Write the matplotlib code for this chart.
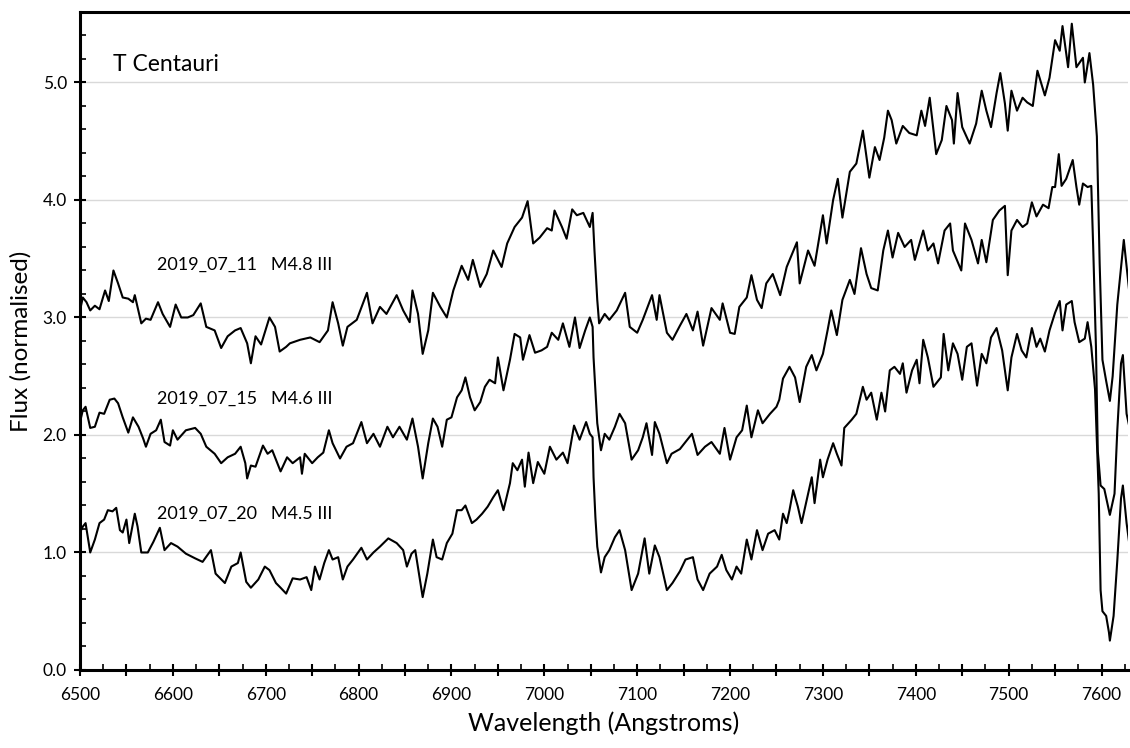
import matplotlib
matplotlib.use("Agg")
import matplotlib.pyplot as plt
from matplotlib.ticker import MultipleLocator, FuncFormatter

plt.rcParams['font.family'] = ['Lato', 'DejaVu Sans']

# 2019_07_11  M4.8 III
wl_11 = [6500, 6503, 6507, 6511, 6516, 6521, 6527, 6531, 6536, 6541, 6546, 6552, 6557, 6559, 6566, 6571,
         6576, 6584, 6589, 6597, 6603, 6609, 6616, 6622, 6630, 6636, 6645, 6652, 6659, 6667, 6673, 6680,
         6684, 6689, 6695, 6704, 6710, 6715, 6722, 6726, 6737, 6748, 6758, 6767, 6772, 6778, 6783, 6788,
         6798, 6809, 6815, 6823, 6830, 6841, 6848, 6855, 6858, 6864, 6869, 6875, 6880, 6888, 6895, 6902,
         6911, 6918, 6923, 6931, 6938, 6945, 6954, 6960, 6968, 6976, 6982, 6988, 6995, 7003, 7008, 7011,
         7019, 7024, 7030, 7035, 7042, 7049, 7052, 7054, 7057, 7059, 7065, 7070, 7078, 7087, 7092, 7100,
         7106, 7116, 7121, 7124, 7132, 7138, 7146, 7153, 7160, 7165, 7171, 7180, 7189, 7192, 7200, 7205,
         7210, 7218, 7223, 7229, 7234, 7239, 7246, 7254, 7261, 7272, 7275, 7284, 7291, 7300, 7304, 7311,
         7316, 7321, 7329, 7336, 7343, 7350, 7356, 7361, 7366, 7370, 7374, 7379, 7386, 7393, 7401, 7406,
         7410, 7415, 7422, 7428, 7433, 7439, 7441, 7445, 7450, 7458, 7465, 7471, 7476, 7481, 7487, 7491,
         7496, 7499, 7503, 7509, 7515, 7520, 7526, 7531, 7539, 7544, 7550, 7555, 7558, 7564, 7568, 7573,
         7580, 7582, 7587, 7591, 7595, 7598, 7601, 7605, 7609, 7612, 7617, 7624, 7630]
fx_11 = [3.06, 3.17, 3.13, 3.06, 3.10, 3.07, 3.23, 3.14, 3.40, 3.29, 3.17, 3.16, 3.13, 3.19, 2.95, 2.99,
         2.98, 3.13, 3.03, 2.92, 3.11, 3.00, 3.00, 3.02, 3.12, 2.92, 2.89, 2.74, 2.84, 2.89, 2.91, 2.78,
         2.61, 2.84, 2.77, 3.00, 2.92, 2.71, 2.75, 2.78, 2.81, 2.83, 2.79, 2.89, 3.13, 2.95, 2.76, 2.92,
         2.98, 3.21, 2.95, 3.09, 3.03, 3.19, 3.06, 2.96, 3.23, 3.03, 2.69, 2.89, 3.21, 3.09, 3.00, 3.23,
         3.44, 3.32, 3.49, 3.26, 3.37, 3.57, 3.43, 3.63, 3.77, 3.85, 3.99, 3.63, 3.68, 3.76, 3.74, 3.91,
         3.77, 3.67, 3.92, 3.87, 3.89, 3.77, 3.89, 3.57, 3.15, 2.95, 3.03, 2.98, 3.06, 3.21, 2.92, 2.87,
         2.98, 3.19, 2.98, 3.19, 2.87, 2.81, 2.93, 3.03, 2.89, 3.05, 2.76, 3.08, 2.98, 3.12, 2.87, 2.86,
         3.09, 3.17, 3.36, 3.15, 3.08, 3.29, 3.37, 3.19, 3.43, 3.64, 3.29, 3.57, 3.44, 3.87, 3.63, 4.00,
         4.18, 3.85, 4.24, 4.31, 4.59, 4.19, 4.45, 4.34, 4.53, 4.76, 4.68, 4.48, 4.63, 4.57, 4.55, 4.76,
         4.63, 4.87, 4.39, 4.51, 4.80, 4.68, 4.48, 4.91, 4.62, 4.48, 4.65, 4.93, 4.76, 4.62, 4.91, 5.08,
         4.82, 4.59, 4.93, 4.76, 4.87, 4.83, 4.80, 5.10, 4.89, 5.04, 5.36, 5.27, 5.48, 5.13, 5.50, 5.13,
         5.21, 5.00, 5.25, 4.98, 4.54, 3.46, 2.64, 2.46, 2.29, 2.50, 3.11, 3.66, 3.21]

# 2019_07_15  M4.6 III
wl_15 = [6500, 6503, 6506, 6511, 6516, 6521, 6526, 6532, 6537, 6541, 6546, 6552, 6557, 6563, 6568, 6571,
         6576, 6582, 6587, 6591, 6597, 6600, 6605, 6614, 6624, 6630, 6636, 6645, 6652, 6659, 6667, 6673,
         6678, 6680, 6684, 6689, 6697, 6702, 6707, 6716, 6723, 6729, 6737, 6739, 6742, 6750, 6756, 6762,
         6768, 6772, 6780, 6787, 6794, 6803, 6809, 6816, 6823, 6831, 6837, 6844, 6852, 6858, 6864, 6869,
         6875, 6880, 6885, 6890, 6895, 6900, 6906, 6911, 6915, 6920, 6925, 6931, 6936, 6941, 6947, 6950,
         6956, 6963, 6968, 6974, 6977, 6984, 6990, 6997, 7003, 7008, 7015, 7020, 7027, 7033, 7038, 7044,
         7049, 7052, 7053, 7055, 7057, 7061, 7065, 7070, 7076, 7081, 7087, 7094, 7101, 7106, 7110, 7116,
         7119, 7124, 7132, 7137, 7146, 7151, 7159, 7165, 7173, 7180, 7189, 7194, 7200, 7207, 7213, 7218,
         7223, 7230, 7235, 7243, 7250, 7253, 7257, 7264, 7270, 7275, 7282, 7288, 7293, 7300, 7305, 7309,
         7315, 7321, 7329, 7334, 7341, 7347, 7352, 7359, 7365, 7370, 7375, 7381, 7388, 7395, 7399, 7408,
         7413, 7419, 7424, 7431, 7437, 7440, 7449, 7453, 7460, 7467, 7471, 7476, 7483, 7490, 7496, 7499,
         7503, 7509, 7515, 7520, 7525, 7530, 7537, 7543, 7547, 7550, 7554, 7557, 7562, 7569, 7573, 7576,
         7580, 7585, 7589, 7591, 7594, 7596, 7599, 7603, 7606, 7609, 7614, 7617, 7621, 7623, 7627, 7630]
fx_15 = [2.11, 2.21, 2.24, 2.06, 2.07, 2.19, 2.18, 2.30, 2.31, 2.27, 2.15, 2.02, 2.15, 2.07, 1.97, 1.90,
         2.01, 2.04, 2.13, 1.94, 1.91, 2.04, 1.96, 2.04, 2.06, 2.01, 1.90, 1.84, 1.76, 1.81, 1.84, 1.90,
         1.76, 1.63, 1.74, 1.73, 1.91, 1.84, 1.87, 1.69, 1.81, 1.76, 1.81, 1.67, 1.84, 1.76, 1.81, 1.85,
         2.04, 1.93, 1.80, 1.90, 1.93, 2.11, 1.93, 2.01, 1.90, 2.07, 1.98, 2.07, 1.96, 2.14, 1.90, 1.63,
         1.93, 2.14, 2.07, 1.90, 2.13, 2.15, 2.32, 2.38, 2.49, 2.32, 2.21, 2.28, 2.41, 2.47, 2.44, 2.66,
         2.38, 2.64, 2.86, 2.83, 2.64, 2.85, 2.70, 2.72, 2.75, 2.87, 2.81, 2.95, 2.75, 3.00, 2.74, 2.89,
         3.00, 2.92, 2.66, 2.38, 2.10, 1.87, 2.01, 1.96, 2.07, 2.18, 2.10, 1.79, 1.87, 1.98, 2.10, 1.83,
         2.11, 2.01, 1.76, 1.84, 1.88, 1.93, 2.01, 1.83, 1.90, 1.94, 1.84, 2.06, 1.79, 1.98, 2.04, 2.25,
         1.98, 2.21, 2.10, 2.18, 2.24, 2.30, 2.48, 2.58, 2.49, 2.28, 2.58, 2.68, 2.55, 2.69, 2.89, 3.06,
         2.85, 3.15, 3.32, 3.20, 3.59, 3.37, 3.25, 3.23, 3.57, 3.74, 3.51, 3.72, 3.60, 3.66, 3.49, 3.74,
         3.57, 3.63, 3.46, 3.74, 3.80, 3.57, 3.40, 3.80, 3.66, 3.46, 3.66, 3.47, 3.83, 3.91, 3.95, 3.36,
         3.74, 3.83, 3.77, 3.80, 3.98, 3.86, 3.96, 3.93, 4.11, 4.11, 4.39, 4.12, 4.18, 4.34, 4.11, 3.96,
         4.14, 4.11, 4.12, 3.61, 2.75, 1.86, 1.57, 1.54, 1.43, 1.32, 1.50, 2.04, 2.61, 2.68, 2.18, 2.07]

# 2019_07_20  M4.5 III
wl_20 = [6500, 6503, 6506, 6511, 6516, 6521, 6526, 6530, 6535, 6539, 6543, 6546, 6550, 6553, 6559, 6562,
         6566, 6573, 6579, 6586, 6591, 6598, 6605, 6614, 6624, 6632, 6641, 6646, 6656, 6663, 6670, 6673,
         6679, 6684, 6692, 6699, 6704, 6711, 6716, 6722, 6729, 6737, 6744, 6749, 6753, 6758, 6763, 6768,
         6772, 6778, 6783, 6788, 6794, 6803, 6809, 6816, 6823, 6832, 6841, 6848, 6852, 6857, 6861, 6866,
         6869, 6874, 6880, 6884, 6890, 6895, 6901, 6906, 6911, 6915, 6922, 6927, 6933, 6939, 6945, 6950,
         6956, 6963, 6966, 6971, 6976, 6979, 6983, 6988, 6993, 7000, 7006, 7013, 7020, 7025, 7032, 7038,
         7045, 7049, 7052, 7053, 7055, 7057, 7061, 7065, 7070, 7076, 7081, 7087, 7094, 7101, 7108, 7113,
         7119, 7124, 7132, 7138, 7146, 7152, 7160, 7165, 7171, 7178, 7186, 7191, 7196, 7202, 7207, 7212,
         7218, 7223, 7229, 7235, 7241, 7248, 7253, 7257, 7261, 7264, 7268, 7273, 7277, 7284, 7288, 7291,
         7297, 7300, 7305, 7311, 7315, 7320, 7323, 7331, 7336, 7343, 7347, 7352, 7358, 7363, 7367, 7372,
         7377, 7383, 7386, 7390, 7396, 7401, 7404, 7408, 7413, 7419, 7427, 7430, 7435, 7440, 7445, 7450,
         7455, 7460, 7466, 7471, 7476, 7481, 7487, 7493, 7499, 7503, 7509, 7514, 7519, 7525, 7530, 7534,
         7539, 7544, 7550, 7555, 7558, 7562, 7568, 7571, 7576, 7582, 7585, 7589, 7593, 7597, 7599, 7601,
         7605, 7608, 7609, 7613, 7617, 7621, 7623, 7627, 7630]
fx_20 = [1.17, 1.22, 1.25, 1.00, 1.11, 1.25, 1.28, 1.36, 1.35, 1.38, 1.19, 1.17, 1.28, 1.08, 1.33, 1.22,
         1.00, 1.00, 1.09, 1.21, 1.02, 1.08, 1.05, 0.99, 0.95, 0.92, 1.02, 0.82, 0.74, 0.88, 0.91, 1.00,
         0.75, 0.70, 0.77, 0.88, 0.85, 0.74, 0.70, 0.65, 0.78, 0.77, 0.79, 0.68, 0.88, 0.77, 0.91, 1.02,
         0.94, 0.96, 0.77, 0.88, 0.94, 1.04, 0.94, 1.00, 1.05, 1.12, 1.08, 1.02, 0.88, 0.99, 1.02, 0.77,
         0.62, 0.82, 1.11, 0.96, 0.94, 1.08, 1.16, 1.36, 1.36, 1.40, 1.25, 1.28, 1.33, 1.39, 1.47, 1.53,
         1.36, 1.59, 1.76, 1.70, 1.79, 1.56, 1.85, 1.59, 1.77, 1.67, 1.90, 1.79, 1.85, 1.76, 2.08, 1.96,
         2.11, 2.01, 1.98, 1.64, 1.30, 1.05, 0.83, 0.96, 1.02, 1.13, 1.19, 1.02, 0.68, 0.82, 1.12, 0.82,
         1.06, 0.96, 0.68, 0.74, 0.84, 0.94, 0.96, 0.77, 0.68, 0.82, 0.88, 0.98, 0.85, 0.77, 0.88, 0.82,
         1.11, 0.94, 1.19, 1.02, 1.16, 1.19, 1.11, 1.33, 1.25, 1.36, 1.53, 1.39, 1.25, 1.50, 1.64, 1.42,
         1.79, 1.64, 1.79, 1.93, 1.84, 1.74, 2.06, 2.13, 2.18, 2.41, 2.30, 2.36, 2.13, 2.36, 2.20, 2.55,
         2.58, 2.52, 2.61, 2.36, 2.55, 2.64, 2.44, 2.81, 2.66, 2.41, 2.49, 2.86, 2.55, 2.78, 2.69, 2.47,
         2.75, 2.78, 2.42, 2.69, 2.61, 2.83, 2.91, 2.72, 2.38, 2.66, 2.86, 2.72, 2.66, 2.91, 2.75, 2.82,
         2.71, 2.89, 3.04, 3.14, 2.89, 3.11, 3.14, 2.96, 2.79, 2.82, 2.96, 2.75, 2.39, 1.50, 0.68, 0.50,
         0.46, 0.32, 0.25, 0.46, 0.93, 1.46, 1.57, 1.25, 1.07]

labels = ['2019_07_11   M4.8 III', '2019_07_15   M4.6 III', '2019_07_20   M4.5 III']
label_y = [3.45, 2.31, 1.33]

fig = plt.figure(figsize=(11.3, 7.48), dpi=100)
ax = fig.add_axes([0.0708, 0.1043, 0.927, 0.8797])

for wl, fx in [(wl_11, fx_11), (wl_15, fx_15), (wl_20, fx_20)]:
    ax.plot(wl, fx, color='black', lw=1.5)

for txt, yy in zip(labels, label_y):
    ax.text(6583, yy, txt, fontsize=13, va='center', ha='left')

ax.text(6536, 5.15, 'T Centauri', fontsize=16.5, va='center', ha='left')

ax.set_xlim(6500, 7628)
ax.set_ylim(0, 5.6)

ax.xaxis.set_major_locator(MultipleLocator(50))
ax.xaxis.set_minor_locator(MultipleLocator(25))
ax.xaxis.set_major_formatter(FuncFormatter(lambda v, p: '%d' % v if int(round(v)) % 100 == 0 else ''))
ax.yaxis.set_major_locator(MultipleLocator(1.0))
ax.yaxis.set_minor_locator(MultipleLocator(0.2))
ax.yaxis.set_major_formatter(FuncFormatter(lambda v, p: '%.1f' % v))

ax.tick_params(axis='both', which='major', direction='inout', length=9, width=1.5, labelsize=12.5, pad=5)
ax.tick_params(axis='both', which='minor', direction='in', length=4, width=1.2)
ax.tick_params(axis='x', which='major', pad=8)

ax.grid(axis='y', which='major', color='#d9d9d9', lw=1)
ax.set_axisbelow(True)

for s in ['left', 'bottom', 'top']:
    ax.spines[s].set_linewidth(2.2)
ax.spines['right'].set_visible(False)

ax.set_xlabel('Wavelength (Angstroms)', fontsize=18, labelpad=6)
ax.set_ylabel('Flux (normalised)', fontsize=17.5, labelpad=8)

fig.savefig('out.png', dpi=100)
